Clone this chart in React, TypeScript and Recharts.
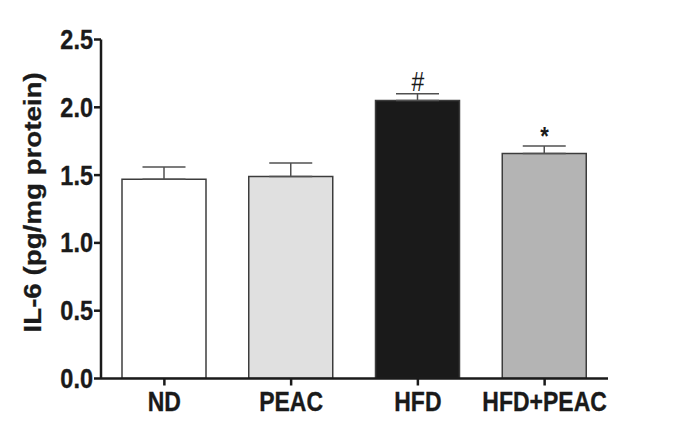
import React from 'react';
import { BarChart, Bar, XAxis, YAxis, Cell, ErrorBar, ReferenceDot } from 'recharts';

const categories = ['ND', 'PEAC', 'HFD', 'HFD+PEAC'];
const means = [1.47, 1.49, 2.05, 1.66];
const sems = [0.09, 0.10, 0.05, 0.055];
const marks = ['', '', '#', '*'];
const yTicks = [0, 0.5, 1.0, 1.5, 2.0, 2.5];
const yLabel = 'IL-6 (pg/mg protein)';

const fills = ['#ffffff', '#e0e0e0', '#1a1a1a', '#b4b4b4'];
const FONT = '"Liberation Sans", Arial, Helvetica, sans-serif';
const STRETCH = 1.18;

const data = categories.map((c, i) => ({ name: c, value: means[i], err: [0, sems[i]] }));

const YTick = (props: any) => {
  const { x, y, payload } = props;
  return (
    <text
      transform={`translate(${x},${y + 9.5}) scale(1,${STRETCH})`}
      textAnchor="end"
      fontFamily={FONT}
      fontWeight="bold"
      fontSize={23.5}
      fill="#1a1a1a"
      stroke="#1a1a1a"
      strokeWidth={0.3}
    >
      {Number(payload.value).toFixed(1)}
    </text>
  );
};

const XTick = (props: any) => {
  const { x, y, payload } = props;
  return (
    <text
      transform={`translate(${x},${y + 23}) scale(1,${STRETCH})`}
      textAnchor="middle"
      fontFamily={FONT}
      fontWeight="bold"
      fontSize={23}
      fill="#1a1a1a"
      stroke="#1a1a1a"
      strokeWidth={0.3}
    >
      {payload.value}
    </text>
  );
};

const MarkLabel = (text: string, dy: number, size: number, weight: string) => (props: any) => {
  const vb = props.viewBox || {};
  const cx = (vb.x || 0) + (vb.width || 0) / 2;
  const cy = (vb.y || 0) + (vb.height || 0) / 2;
  return (
    <text
      transform={`translate(${cx},${cy - dy}) scale(1,${STRETCH})`}
      textAnchor="middle"
      fontFamily={FONT}
      fontSize={size}
      fontWeight={weight}
      fill="#1a1a1a"
    >
      {text}
    </text>
  );
};

export default function App() {
  return (
    <div style={{ position: 'absolute', left: 0, top: 0, width: 684, height: 433, background: '#fff' }}>
      <BarChart
        width={684}
        height={433}
        data={data}
        margin={{ top: 39.5, right: 76, bottom: 0, left: 0 }}
        barSize={84}
      >
        <XAxis
          dataKey="name"
          height={54.5}
          axisLine={{ stroke: '#1a1a1a', strokeWidth: 2.5 }}
          tickLine={{ stroke: '#1a1a1a', strokeWidth: 2.5 }}
          tickSize={7}
          tickMargin={2}
          tick={<XTick />}
          interval={0}
        />
        <YAxis
          width={101}
          domain={[0, 2.5]}
          ticks={yTicks}
          allowDataOverflow
          axisLine={{ stroke: '#1a1a1a', strokeWidth: 2.5 }}
          tickLine={{ stroke: '#1a1a1a', strokeWidth: 2.5 }}
          tickSize={7}
          tickMargin={1}
          tick={<YTick />}
          interval={0}
        />
        <Bar dataKey="value" stroke="#3c3c3c" strokeWidth={1.5} isAnimationActive={false}>
          {data.map((d, i) => (
            <Cell key={d.name} fill={fills[i]} />
          ))}
          <ErrorBar dataKey="err" width={21.5} stroke="#505050" strokeWidth={1.5} direction="y" />
        </Bar>
        {categories.map((c, i) =>
          marks[i] ? (
            <ReferenceDot
              key={c}
              x={c}
              y={means[i] + sems[i]}
              r={1}
              fill="none"
              stroke="none"
              label={MarkLabel(marks[i], i === 2 ? 3 : 1, i === 2 ? 23 : 22, i === 2 ? 'normal' : 'bold')}
            />
          ) : null
        )}
        <text
          transform={`translate(40.7,202.4) rotate(-90) scale(${STRETCH},1)`}
          textAnchor="middle"
          fontFamily={FONT}
          fontWeight="bold"
          fontSize={23.5}
          fill="#1a1a1a"
          stroke="#1a1a1a"
          strokeWidth={0.3}
        >
          {yLabel}
        </text>
      </BarChart>
    </div>
  );
}
